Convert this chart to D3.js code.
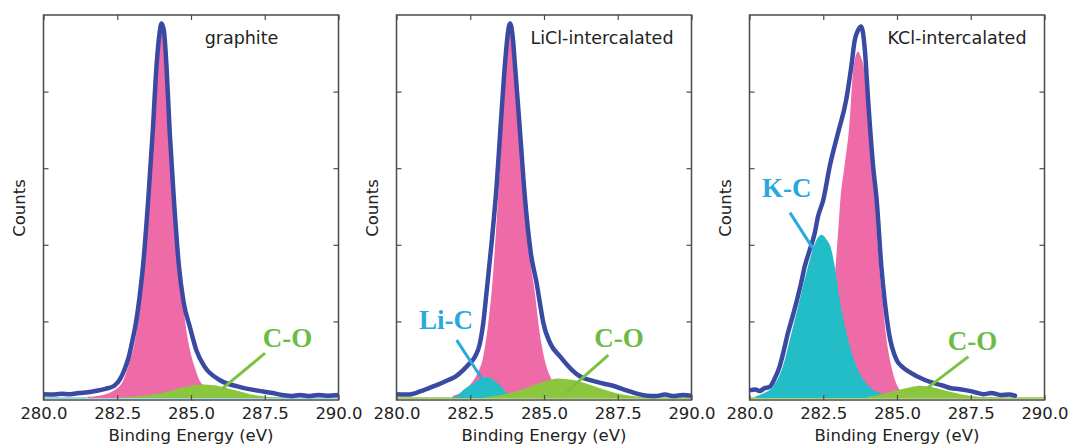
<!DOCTYPE html>
<html>
<head>
<meta charset="utf-8">
<script src="https://cdn.jsdelivr.net/npm/d3@7"></script>
<style>
  html, body { margin: 0; padding: 0; background: #ffffff; }
  svg { display: block; }
</style>
</head>
<body>
<svg id="chart" width="1069" height="446"></svg>
<script>
// ---------------- DATA (binding energy eV, counts in % of max) ----------------
const panelTitles = ["graphite", "LiCl-intercalated", "KCl-intercalated"];
const energyTicks = [280.0, 282.5, 285.0, 287.5, 290.0];
const countTicks = [20, 40, 60, 80];

// graphite
const graphiteTotal = [[280.0,1.0],[280.3,0.9],[280.6,1.1],[280.9,1.0],[281.2,1.3],[281.5,1.5],[281.8,1.9],[282.1,2.4],[282.4,3.2],[282.6,5.0],[282.75,7.5],[282.9,11.0],[283.0,14.5],[283.13,19.5],[283.25,26.0],[283.38,35.0],[283.55,51.8],[283.70,69.2],[283.83,86.5],[283.93,95.0],[284.0,97.8],[284.08,96.0],[284.17,86.5],[284.28,69.2],[284.42,51.8],[284.59,34.5],[284.75,25.0],[284.96,18.6],[285.18,12.5],[285.46,8.2],[285.97,4.7],[286.64,2.9],[287.2,2.0],[287.76,1.3],[288.1,0.8],[288.4,0.5],[288.7,0.8],[289.0,0.5],[289.3,0.8],[289.6,0.6],[290.0,0.8]];
const graphiteCC = [[281.5,0.3],[282.0,0.8],[282.4,2.0],[282.7,4.5],[282.9,9.0],[283.1,15.0],[283.25,23.0],[283.4,34.0],[283.55,50.0],[283.7,67.0],[283.83,84.0],[283.93,93.0],[284.0,95.5],[284.08,93.5],[284.18,84.0],[284.3,67.0],[284.44,50.0],[284.6,33.0],[284.75,23.0],[284.9,15.0],[285.12,8.2],[285.29,4.6],[285.5,3.0],[286.0,1.3],[286.5,0.6],[287.0,0.2],[287.5,0.0]];
const graphiteCO = [[282.5,0.1],[283.0,0.3],[283.5,0.7],[284.0,1.3],[284.5,2.3],[285.0,3.2],[285.4,3.5],[285.8,3.3],[286.2,2.6],[286.6,1.8],[287.0,1.0],[287.5,0.4],[288.0,0.1],[288.5,0.0]];

// LiCl-intercalated
const liclTotal = [[280.0,1.0],[280.4,0.9],[280.8,1.7],[281.1,2.6],[281.4,3.5],[281.7,4.5],[282.0,5.6],[282.26,7.3],[282.45,8.8],[282.66,10.8],[282.82,14.0],[282.94,19.5],[283.06,28.2],[283.23,41.0],[283.40,56.0],[283.53,71.0],[283.68,87.5],[283.78,95.5],[283.85,97.8],[283.93,95.0],[284.02,86.5],[284.19,69.2],[284.36,51.7],[284.55,38.0],[284.75,30.0],[284.9,23.0],[284.98,19.5],[285.21,14.3],[285.55,10.8],[285.95,7.3],[286.23,5.6],[286.6,4.6],[287.0,3.8],[287.42,3.0],[287.8,2.0],[288.21,1.0],[288.5,0.6],[288.78,0.5],[289.1,0.9],[289.4,0.5],[289.7,0.8],[290.0,0.6]];
const liclCC = [[281.9,0.5],[282.2,1.5],[282.5,3.5],[282.75,6.5],[282.94,10.8],[283.11,19.5],[283.23,28.2],[283.4,47.0],[283.53,64.0],[283.68,84.0],[283.78,93.0],[283.85,96.0],[283.93,93.0],[284.02,84.0],[284.19,66.0],[284.36,49.0],[284.55,35.0],[284.70,27.0],[284.81,19.5],[285.0,10.8],[285.21,5.6],[285.5,2.5],[286.0,0.8],[286.5,0.2],[287.0,0.0]];
const liclLiC = [[281.9,0.2],[282.1,0.8],[282.26,2.1],[282.45,3.1],[282.6,3.8],[282.8,4.8],[283.06,5.4],[283.25,4.9],[283.45,3.8],[283.65,2.1],[283.85,0.8],[284.1,0.2],[284.4,0.0]];
const liclCO = [[283.0,0.2],[283.5,0.7],[284.0,1.6],[284.5,2.9],[285.0,4.3],[285.5,5.1],[286.0,4.7],[286.5,3.6],[287.0,2.3],[287.5,1.2],[288.0,0.5],[288.5,0.15],[289.0,0.0]];

// KCl-intercalated
const kclTotal = [[280.0,2.0],[280.2,2.2],[280.34,1.8],[280.5,2.5],[280.68,2.9],[280.85,5.0],[281.02,8.2],[281.15,12.0],[281.30,16.9],[281.45,21.0],[281.61,25.6],[281.75,30.0],[281.87,34.3],[282.04,38.6],[282.21,43.0],[282.32,47.3],[282.5,51.7],[282.72,60.5],[283.0,69.2],[283.28,77.9],[283.45,86.5],[283.57,93.5],[283.68,96.0],[283.79,97.0],[283.91,90.9],[284.02,77.9],[284.19,60.5],[284.31,51.7],[284.47,34.3],[284.58,25.6],[284.73,16.9],[284.98,10.0],[285.2,8.0],[285.44,6.7],[285.89,4.9],[286.2,4.0],[286.57,3.2],[286.8,2.6],[287.13,2.3],[287.5,1.8],[287.93,1.0],[288.2,1.3],[288.5,0.8],[288.8,0.9],[289.0,0.6]];
const kclCC = [[281.5,0.3],[281.9,1.2],[282.2,3.0],[282.5,8.0],[282.7,17.0],[282.85,28.0],[283.0,43.0],[283.08,51.7],[283.22,60.5],[283.37,70.0],[283.53,86.5],[283.68,90.5],[283.78,89.0],[283.87,86.5],[284.08,69.2],[284.25,51.7],[284.4,34.3],[284.51,25.6],[284.62,16.9],[284.81,8.2],[285.03,2.9],[285.3,1.0],[285.7,0.3],[286.2,0.0]];
const kclKC = [[280.2,0.4],[280.45,1.2],[280.79,2.9],[281.13,8.2],[281.42,16.9],[281.70,25.6],[281.98,34.3],[282.2,40.0],[282.44,42.6],[282.6,41.5],[282.78,38.6],[282.89,34.3],[283.06,25.6],[283.29,16.9],[283.63,8.2],[284.08,2.9],[284.64,0.8],[285.2,0.0]];
const kclCO = [[284.0,0.3],[284.5,1.0],[285.0,2.0],[285.5,2.9],[285.8,3.2],[286.2,2.8],[286.7,1.8],[287.2,0.9],[287.7,0.3],[288.2,0.1],[288.6,0.0]];

// annotation labels (data coordinates of text centre and leader line ends)
const annotations = [
  {panel:0, text:"C-O",  kind:"co", tx:288.27, ty:13.4, line:[[287.51,11.7],[286.04,2.3]]},
  {panel:1, text:"Li-C", kind:"mc", tx:281.68, ty:18.1, line:[[282.04,15.1],[282.89,5.1]]},
  {panel:1, text:"C-O",  kind:"co", tx:287.54, ty:13.4, line:[[287.18,11.2],[285.77,1.6]]},
  {panel:2, text:"K-C",  kind:"mc", tx:281.26, ty:52.6, line:[[281.37,48.4],[282.17,38.8]]},
  {panel:2, text:"C-O",  kind:"co", tx:287.56, ty:12.5, line:[[287.42,10.8],[286.01,2.5]]}
];

// ---------------- LAYOUT / STYLE ----------------
const panelLeft = [43.5, 396.5, 749.5];
const panelW = 295;
const plotTop = 15, plotBottom = 400;
const colors = {
  total: "#3a4aa3", cc: "#ef6ba8", mc: "#22bdc7", co: "#8cc63f",
  coText: "#6cbb45", mcText: "#2aa8de", coLine: "#7cc242", mcLine: "#2aa9e0",
  frame: "#4a4a4a", text: "#222222"
};
const panels = [
  {total: graphiteTotal, cc: graphiteCC, mc: null, co: graphiteCO, base: "#9fd8e2"},
  {total: liclTotal, cc: liclCC, mc: liclLiC, co: liclCO, base: "#a9d46e"},
  {total: kclTotal, cc: kclCC, mc: kclKC, co: kclCO, base: "#a9d46e"}
];

const svg = d3.select("#chart");
const font = "'DejaVu Sans', sans-serif";

panels.forEach((p, i) => {
  const x = d3.scaleLinear().domain([280, 290]).range([panelLeft[i], panelLeft[i] + panelW]);
  const y = d3.scaleLinear().domain([0, 100]).range([398, 15]);
  const g = svg.append("g");

  const clipId = "clip" + i;
  g.append("clipPath").attr("id", clipId).append("rect")
    .attr("x", panelLeft[i]).attr("y", plotTop).attr("width", panelW).attr("height", plotBottom - plotTop);
  const plot = g.append("g").attr("clip-path", `url(#${clipId})`);

  const area = d3.area().x(d => x(d[0])).y0(y(0)).y1(d => y(d[1])).curve(d3.curveMonotoneX);
  const line = d3.line().x(d => x(d[0])).y(d => y(d[1])).curve(d3.curveMonotoneX);

  plot.append("path").datum([[280, 0], [290, 0]]).attr("d", line)
    .attr("fill", "none").attr("stroke", p.base).attr("stroke-width", 2);

  plot.append("path").datum(p.cc).attr("d", area).attr("fill", colors.cc);
  if (p.mc) plot.append("path").datum(p.mc).attr("d", area).attr("fill", colors.mc);
  plot.append("path").datum(p.co).attr("d", area).attr("fill", colors.co);

  plot.append("path").datum(p.total).attr("d", line)
    .attr("fill", "none").attr("stroke", colors.total).attr("stroke-width", 4.5)
    .attr("stroke-linejoin", "round").attr("stroke-linecap", "round");

  const bx = g.append("g").attr("transform", `translate(0,${plotBottom})`)
    .call(d3.axisBottom(x).tickValues(energyTicks).tickFormat(d3.format(".1f"))
      .tickSizeInner(-5).tickSizeOuter(0).tickPadding(7));
  const tx = g.append("g").attr("transform", `translate(0,${plotTop})`)
    .call(d3.axisTop(x).tickValues(energyTicks).tickFormat("").tickSizeInner(-5).tickSizeOuter(0));
  const ly = g.append("g").attr("transform", `translate(${panelLeft[i]},0)`)
    .call(d3.axisLeft(y).tickValues(countTicks).tickFormat("").tickSizeInner(-5).tickSizeOuter(0));
  const ry = g.append("g").attr("transform", `translate(${panelLeft[i] + panelW},0)`)
    .call(d3.axisRight(y).tickValues(countTicks).tickFormat("").tickSizeInner(-5).tickSizeOuter(0));
  [bx, tx, ly, ry].forEach(a => {
    a.select(".domain").remove();
    a.selectAll(".tick line").attr("stroke", colors.frame).attr("stroke-width", 1.2);
  });
  bx.selectAll(".tick text").attr("font-family", font).attr("font-size", 16.5).attr("fill", colors.text);

  g.append("rect").attr("x", panelLeft[i]).attr("y", plotTop).attr("width", panelW).attr("height", plotBottom - plotTop)
    .attr("fill", "none").attr("stroke", colors.frame).attr("stroke-width", 1.5);

  const title = g.append("text").attr("x", panelLeft[i] + panelW - 18).attr("y", 44)
    .attr("text-anchor", "end").attr("font-family", font).attr("font-size", 17.5).attr("fill", colors.text)
    .text(panelTitles[i]);
  if (i === 0) title.attr("text-anchor", "middle").attr("x", 241.5);

  g.append("text").attr("x", panelLeft[i] + panelW / 2).attr("y", 441)
    .attr("text-anchor", "middle").attr("font-family", font).attr("font-size", 16.5).attr("fill", colors.text)
    .text("Binding Energy (eV)");
  g.append("text").attr("transform", `translate(${panelLeft[i] - 19},208) rotate(-90)`)
    .attr("text-anchor", "middle").attr("font-family", font).attr("font-size", 16.5).attr("fill", colors.text)
    .text("Counts");

  annotations.filter(a => a.panel === i).forEach(a => {
    g.append("line")
      .attr("x1", x(a.line[0][0])).attr("y1", y(a.line[0][1]))
      .attr("x2", x(a.line[1][0])).attr("y2", y(a.line[1][1]))
      .attr("stroke", a.kind === "co" ? colors.coLine : colors.mcLine).attr("stroke-width", 3);
    g.append("text").attr("x", x(a.tx)).attr("y", y(a.ty))
      .attr("text-anchor", "middle").attr("font-family", "'Liberation Serif', serif")
      .attr("font-weight", "bold").attr("font-size", 27)
      .attr("fill", a.kind === "co" ? colors.coText : colors.mcText)
      .text(a.text);
  });
});
</script>
</body>
</html>
